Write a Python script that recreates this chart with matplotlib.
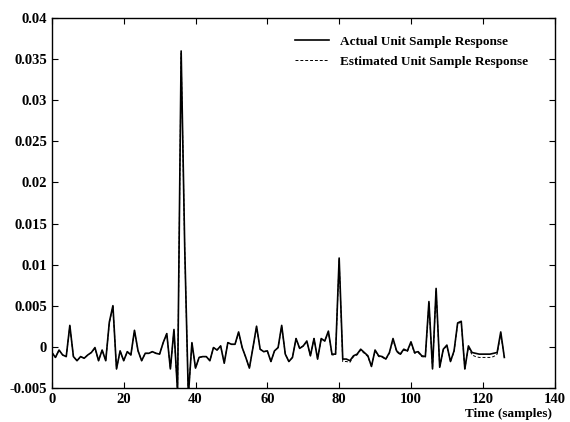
import matplotlib
matplotlib.use("Agg")
import matplotlib.pyplot as plt
import numpy as np

actual = [-0.0007, -0.0013, -0.0004, -0.0010, -0.0012, 0.0026, -0.0012, -0.0017, -0.0012, -0.0014,
          -0.0010, -0.0007, -0.0001, -0.0017, -0.0004, -0.0017, 0.0030, 0.0050, -0.0027, -0.0005,
          -0.0017, -0.0006, -0.0010, 0.0020, -0.0005, -0.0017, -0.0008, -0.0008, -0.0006, -0.0008,
          -0.0009, 0.0005, 0.0016, -0.0027, 0.0021, -0.0055, 0.0360, 0.0120, -0.0060, 0.0005,
          -0.0026, -0.0013, -0.0012, -0.0012, -0.0017, -0.0001, -0.0004, 0.0001, -0.0020, 0.0005,
          0.0003, 0.0003, 0.0018, -0.0001, -0.0013, -0.0026, -0.0001, 0.0025, -0.0003, -0.0006,
          -0.0005, -0.0018, -0.0005, -0.0001, 0.0026, -0.0009, -0.0018, -0.0013, 0.0010, -0.0002,
          0.0001, 0.0007, -0.0011, 0.0010, -0.0015, 0.0010, 0.0007, 0.0019, -0.0009, -0.0009,
          0.0108, -0.0015, -0.0015, -0.0017, -0.0011, -0.0009, -0.0003, -0.0007, -0.0011, -0.0024,
          -0.0004, -0.0011, -0.0012, -0.0015, -0.0007, 0.0010, -0.0005, -0.0009, -0.0003, -0.0005,
          0.0006, -0.0007, -0.0006, -0.0011, -0.0012, 0.0055, -0.0027, 0.0071, -0.0025, -0.0003,
          0.0002, -0.0018, -0.0005, 0.0029, 0.0031, -0.0027, 0.0001, -0.0007, -0.0008, -0.0009,
          -0.0009, -0.0009, -0.0009, -0.0008, -0.0007, 0.0018, -0.0013]

estimated = [-0.0007, -0.0013, -0.0004, -0.0010, -0.0012, 0.0025, -0.0012, -0.0017, -0.0012, -0.0014,
             -0.0010, -0.0007, -0.0002, -0.0017, -0.0004, -0.0017, 0.0029, 0.0049, -0.0027, -0.0005,
             -0.0017, -0.0006, -0.0010, 0.0019, -0.0005, -0.0017, -0.0008, -0.0008, -0.0006, -0.0008,
             -0.0009, 0.0005, 0.0016, -0.0027, 0.0020, -0.0055, 0.0357, 0.0118, -0.0060, 0.0004,
             -0.0026, -0.0013, -0.0012, -0.0012, -0.0017, -0.0001, -0.0004, 0.0001, -0.0020, 0.0005,
             0.0003, 0.0003, 0.0017, -0.0001, -0.0013, -0.0026, -0.0001, 0.0024, -0.0003, -0.0006,
             -0.0005, -0.0018, -0.0005, -0.0001, 0.0025, -0.0009, -0.0018, -0.0013, 0.0010, -0.0002,
             0.0001, 0.0006, -0.0011, 0.0010, -0.0015, 0.0009, 0.0007, 0.0018, -0.0010, -0.0010,
             0.0106, -0.0018, -0.0018, -0.0019, -0.0012, -0.0010, -0.0004, -0.0008, -0.0012, -0.0024,
             -0.0005, -0.0012, -0.0013, -0.0015, -0.0008, 0.0009, -0.0006, -0.0010, -0.0004, -0.0006,
             0.0005, -0.0008, -0.0007, -0.0012, -0.0013, 0.0053, -0.0027, 0.0069, -0.0025, -0.0004,
             0.0001, -0.0018, -0.0006, 0.0028, 0.0030, -0.0027, 0.0000, -0.0010, -0.0012, -0.0013,
             -0.0013, -0.0013, -0.0013, -0.0012, -0.0009, 0.0016, -0.0013]

xticks = [0, 20, 40, 60, 80, 100, 120, 140]
yticks = [-0.005, 0, 0.005, 0.01, 0.015, 0.02, 0.025, 0.03, 0.035, 0.04]
yticklabels = ["-0.005", "0", "0.005", "0.01", "0.015", "0.02", "0.025", "0.03", "0.035", "0.04"]

plt.rcParams['font.family'] = ['Liberation Serif', 'DejaVu Serif']

fig = plt.figure(figsize=(5.7, 4.22), dpi=100)
ax = fig.add_axes([0.091, 0.081, 0.882, 0.876])

n = np.arange(len(actual))
ax.plot(n, actual, color='black', lw=1.2, label='Actual Unit Sample Response')
ax.plot(n, estimated, color='black', lw=0.7, ls=(0, (3, 2)), label='Estimated Unit Sample Response')

ax.set_xlim(0, 140)
ax.set_ylim(-0.005, 0.04)
ax.set_xticks(xticks)
ax.set_yticks(yticks)
ax.set_yticklabels(yticklabels)
ax.tick_params(direction='in', top=True, right=True, length=4, width=0.8,
               labelsize=10.5)
for lab in ax.get_xticklabels() + ax.get_yticklabels():
    lab.set_fontweight('bold')
for s in ax.spines.values():
    s.set_linewidth(1.0)

ax.text(0.995, -0.072, 'Time (samples)', transform=ax.transAxes, ha='right', va='center',
        fontsize=9.5, fontweight='bold')

leg = ax.legend(loc='upper right', bbox_to_anchor=(0.97, 0.985), frameon=False,
                fontsize=9.5, handlelength=2.6, handletextpad=0.8, labelspacing=0.6)
for t in leg.get_texts():
    t.set_fontweight('bold')

fig.savefig('out.png', dpi=100)
